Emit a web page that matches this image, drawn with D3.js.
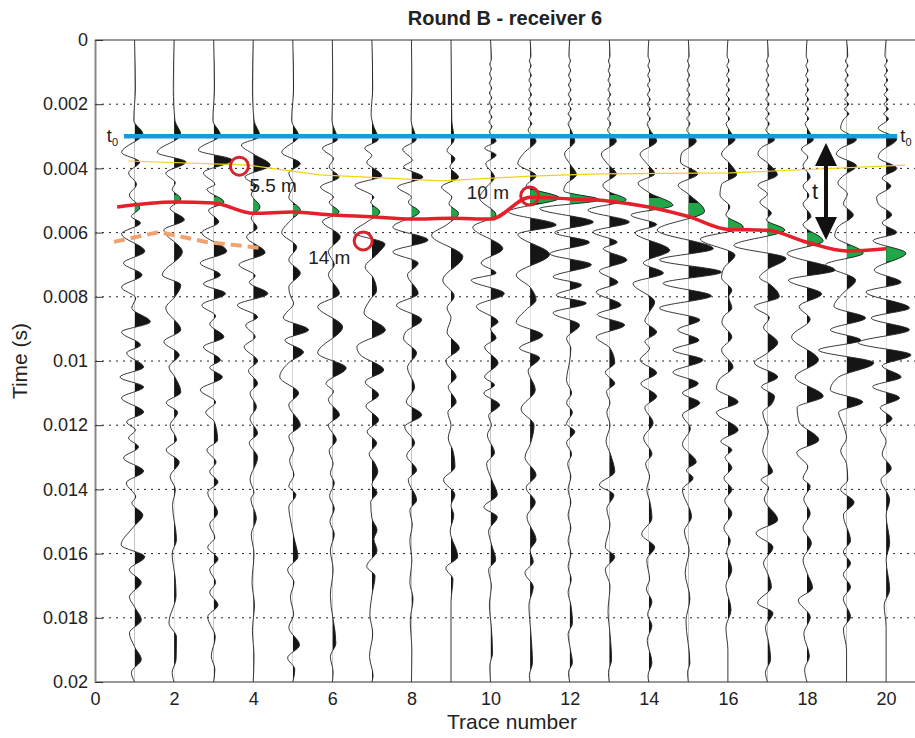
<!DOCTYPE html>
<html>
<head>
<meta charset="utf-8">
<script src="https://cdn.jsdelivr.net/npm/d3@7"></script>
<style>
body { margin: 0; background: #fff; }
text { font-family: "Liberation Sans", Arial, sans-serif; fill: #222; }
</style>
</head>
<body>
<div id="chart"></div>
<script>
// time (ms), amplitude (in trace units) of each wiggle extreme
const tr01 = [[0,0],[1.5,0.02],[2.5,-0.02],[2.93,0.21],[3.5,-0.33],[3.8,0.13],[4.14,-0.15],[4.5,0.05],[4.83,-0.13],[5.23,0.13],[5.5,-0.08],[5.7,0.15],[6.04,-0.33],[6.58,0.26],[6.95,-0.28],[7.32,0.19],[7.7,-0.33],[8.04,0.03],[8.35,-0.07],[8.78,0.4],[9.1,-0.33],[9.5,0.15],[9.75,-0.2],[10.19,0.23],[10.5,-0.37],[10.81,0.23],[11.15,-0.33],[11.59,0.23],[11.9,-0.2],[12.15,0.02],[12.4,-0.15],[12.68,0.1],[13.02,-0.28],[13.43,0.23],[13.8,-0.21],[14.24,0.03],[14.42,-0.07],[14.8,0.21],[15.2,-0.05],[15.73,-0.34],[16.1,0.26],[16.5,-0.13],[16.9,0.17],[17.35,-0.13],[17.66,0],[18.07,0.17],[18.47,-0.13],[18.9,0],[19.3,0.17],[19.7,-0.08],[20,0]];
const tr02 = [[0,0],[1.5,-0.02],[2.5,0.02],[2.95,0.17],[3.5,-0.43],[3.8,0.3],[4.15,-0.21],[4.45,0.03],[4.65,-0.05],[4.95,0.17],[5.25,-0.1],[5.6,0.26],[5.92,-0.26],[6.6,0.21],[7.32,-0.3],[7.63,0.17],[8.0,0.02],[8.35,-0.21],[9.03,0.17],[9.4,-0.26],[9.81,0.13],[10.19,-0.13],[10.5,0.02],[10.97,0.17],[11.3,-0.2],[11.6,0.09],[12.0,-0.1],[12.46,0.06],[12.77,-0.2],[13.15,0.13],[13.6,-0.1],[14.0,0.03],[14.5,-0.04],[15.57,0.06],[16.0,-0.05],[16.8,0.03],[17.3,0.05],[18.16,-0.13],[18.6,0.06],[19.3,0.05],[19.7,-0.05],[20,0]];
const tr03 = [[0,0],[1.5,0.02],[2.5,-0.02],[2.96,0.17],[3.43,-0.39],[3.74,0.47],[4.14,-0.26],[4.5,0.03],[4.65,-0.17],[5.05,0.26],[5.3,-0.13],[5.67,0.13],[6.0,-0.3],[6.58,0.33],[6.95,-0.34],[7.32,0.17],[7.6,-0.26],[7.9,0.3],[8.26,-0.3],[8.6,0.05],[8.85,-0.1],[9.25,0.26],[9.56,-0.26],[9.97,0.17],[10.2,-0.1],[10.5,0.22],[10.9,-0.34],[11.28,0.05],[11.6,-0.2],[11.9,0.02],[12.46,0.1],[12.77,-0.17],[13.15,0.06],[13.45,-0.1],[13.77,0.11],[14.1,-0.15],[14.73,0.1],[15.1,-0.1],[15.5,0.03],[15.8,-0.15],[16.17,0.11],[16.5,-0.1],[16.9,0.05],[17.2,-0.1],[17.6,0.11],[17.97,-0.15],[18.6,0.04],[19.2,-0.06],[19.6,0.03],[20,0]];
const tr04 = [[0,0],[1.5,-0.02],[2.5,0.02],[3.0,0.17],[3.27,-0.3],[3.55,0.0],[3.9,0.43],[4.27,-0.21],[4.55,0.08],[4.8,-0.05],[5.2,0.17],[5.55,-0.05],[5.85,0.1],[6.13,-0.17],[6.62,0.3],[7.0,-0.36],[7.35,0.05],[7.55,-0.1],[7.9,0.37],[8.26,-0.4],[8.63,0.11],[8.88,-0.19],[9.25,0.05],[9.56,-0.23],[10.0,0.11],[10.3,-0.12],[10.7,0.11],[11.0,-0.08],[11.43,0.08],[11.8,-0.08],[12.25,0.11],[12.55,-0.1],[13.0,0.11],[13.7,-0.08],[14.1,0.02],[14.3,-0.06],[14.9,0.08],[15.4,-0.05],[16.0,0.02],[16.9,-0.03],[17.6,0.03],[18.4,-0.02],[19.2,0.02],[20,0]];
const tr05 = [[0,0],[1.5,0.02],[2.5,-0.03],[3.0,0.15],[3.5,-0.28],[3.85,0.19],[4.15,-0.1],[4.5,0.02],[4.9,-0.1],[5.3,0.19],[5.65,-0.08],[6.0,-0.28],[6.45,0.1],[6.85,-0.1],[7.26,0.19],[7.7,-0.1],[8.0,-0.05],[8.2,0.02],[8.66,-0.24],[9.03,0.4],[9.35,-0.2],[9.72,0.27],[10.05,-0.1],[10.5,-0.33],[11.0,0.15],[11.37,-0.1],[12.0,0.19],[12.35,-0.1],[12.75,0.02],[13.1,-0.08],[13.55,0.03],[13.9,-0.1],[14.17,0.08],[14.55,-0.1],[15.0,-0.05],[15.5,0.03],[16.1,0.13],[16.5,-0.13],[16.9,0.03],[17.35,-0.06],[17.9,0.02],[18.3,-0.1],[18.85,0.17],[19.25,-0.13],[19.6,0.05],[20,0]];
const tr06 = [[0,0],[1.5,0.01],[2.5,-0.01],[3.1,0.13],[3.37,-0.25],[3.7,0.03],[3.95,-0.08],[4.27,0.17],[4.58,-0.3],[4.9,0.03],[5.05,-0.08],[5.36,0.17],[5.65,-0.25],[6.13,0.2],[6.6,-0.1],[7.0,0.05],[7.3,-0.1],[7.9,0.18],[8.3,-0.37],[8.94,0.26],[9.75,-0.37],[10.22,0.35],[10.7,-0.16],[10.95,0.03],[11.2,-0.1],[11.68,0.18],[12.0,-0.1],[12.46,0.1],[12.8,-0.08],[13.2,0.02],[13.5,-0.05],[13.8,0.05],[14.2,-0.07],[14.6,0.05],[15.0,-0.06],[15.4,0.05],[15.9,-0.05],[16.5,0.02],[17.3,-0.05],[18.8,0.09],[19.2,-0.05],[19.7,0.02],[20,0]];
const tr07 = [[0,0],[1.5,0.02],[2.3,-0.02],[2.6,0.02],[3.1,0.16],[3.37,-0.18],[3.6,0.0],[3.8,-0.13],[4.23,0.25],[4.52,-0.43],[4.9,0.05],[5.05,-0.03],[5.36,0.2],[5.67,-0.13],[6.0,-0.47],[6.35,0.33],[6.65,0.15],[7.07,-0.17],[7.4,0.03],[7.8,0.12],[8.1,-0.05],[8.5,-0.2],[9.03,0.34],[9.56,-0.38],[9.8,-0.3],[10.28,0.3],[10.65,-0.17],[11.06,0.17],[11.4,-0.15],[11.84,0.17],[12.2,-0.12],[12.56,0.12],[12.9,-0.07],[13.2,0.08],[13.45,0.15],[13.85,0.0],[14.1,0.13],[14.4,-0.03],[14.9,0.0],[15.27,0.13],[15.55,0.05],[15.9,0.13],[16.4,-0.13],[16.7,0.08],[17.3,0.0],[17.9,-0.05],[18.5,0.02],[19.2,-0.06],[19.8,0.03],[20,0]];
const tr08 = [[0,0],[1.5,0.01],[2.5,-0.01],[3.1,0.12],[3.4,-0.22],[3.75,0.02],[3.95,-0.2],[4.27,0.29],[4.58,-0.35],[4.9,0.0],[5.05,-0.08],[5.36,0.2],[5.83,-0.47],[6.23,0.42],[6.6,-0.47],[6.95,0.17],[7.32,-0.1],[7.9,0.17],[8.26,-0.38],[8.72,0.26],[9.1,-0.15],[9.3,-0.2],[9.75,0.13],[10.2,-0.1],[10.81,0.08],[11.28,-0.13],[11.68,0.26],[12.05,-0.17],[12.55,0.08],[12.95,-0.12],[13.4,0.13],[13.7,-0.08],[14.33,0.13],[14.65,-0.04],[15.1,0.02],[15.6,-0.04],[16.2,0.01],[16.9,-0.04],[17.4,0.04],[18.1,-0.03],[19.0,0.01],[20,0]];
const tr09 = [[0,0],[1.5,0.01],[2.5,0.02],[3.1,0.08],[3.45,-0.1],[3.7,0.1],[3.95,-0.03],[4.27,0.19],[4.58,-0.24],[4.9,0.02],[5.1,-0.05],[5.4,0.19],[5.75,-0.1],[6.08,-0.49],[6.75,0.3],[7.48,-0.21],[7.98,0.08],[8.35,-0.1],[8.65,0.0],[9.1,-0.1],[9.6,0.21],[10.0,-0.13],[10.5,0.13],[10.8,-0.07],[11.28,0.13],[11.6,-0.08],[12.0,0.0],[12.4,-0.07],[12.8,0.05],[13.3,0.1],[13.7,-0.19],[14.17,0.1],[14.5,0.0],[14.8,0.07],[15.3,-0.02],[16.1,0.17],[16.45,-0.13],[16.8,0.05],[17.5,0.0],[20,0]];
const tr10 = [[0,0],[0.6,0.02],[0.75,-0.02],[0.9,0.02],[1.05,-0.025],[1.2,0.025],[1.35,-0.03],[1.5,0.03],[1.65,-0.03],[1.8,0.03],[1.95,-0.035],[2.1,0.035],[2.25,-0.035],[2.4,0.035],[2.55,-0.04],[2.7,0.035],[2.85,-0.03],[3.15,0.14],[3.37,-0.15],[3.58,0.14],[3.85,-0.12],[4.27,0.1],[4.58,-0.1],[4.92,-0.28],[5.45,0.14],[5.83,-0.45],[6.5,0.31],[6.95,-0.24],[7.26,0.14],[7.48,-0.49],[7.9,0.35],[8.3,-0.36],[8.78,0.19],[9.0,0.0],[9.28,0.14],[9.56,-0.15],[10.06,0.19],[10.5,-0.15],[10.75,0.1],[11.0,-0.17],[11.37,0.23],[11.7,-0.05],[12.0,0.02],[12.3,-0.08],[12.86,0.1],[13.2,-0.1],[13.7,0.03],[14.17,0.17],[14.55,-0.17],[14.86,0.17],[15.3,-0.05],[15.7,0.02],[16.2,0.13],[16.5,-0.05],[17.0,0.02],[17.6,-0.03],[18.3,0.02],[19.1,0.05],[19.5,-0.02],[20,0]];
const tr11 = [[0,0],[0.5,0.02],[0.65,-0.02],[0.8,0.025],[0.95,-0.025],[1.1,0.03],[1.25,-0.03],[1.4,0.03],[1.55,-0.03],[1.7,0.035],[1.85,-0.035],[2.0,0.035],[2.15,-0.035],[2.3,0.04],[2.45,-0.04],[2.6,0.04],[2.8,-0.05],[3.15,0.15],[3.5,-0.14],[3.85,-0.31],[4.23,0.15],[4.55,-0.1],[4.92,0.74],[5.35,-0.55],[5.76,0.66],[6.05,-0.31],[6.68,0.49],[7.32,-0.35],[7.7,0.0],[8.1,0.15],[8.4,-0.1],[8.8,-0.35],[9.2,0.32],[9.6,-0.27],[9.9,0.24],[10.3,-0.05],[10.9,0.13],[11.5,-0.23],[12.0,0.1],[12.6,0.0],[13.0,-0.13],[13.55,0.15],[13.95,-0.1],[14.4,0.13],[14.85,-0.08],[15.58,0.15],[15.9,0.0],[16.25,0.08],[16.6,-0.13],[17.04,0.08],[17.6,-0.03],[18.5,0.02],[19.4,0.06],[19.8,-0.02],[20,0]];
const tr12 = [[0,0],[0.5,-0.02],[0.65,0.02],[0.8,-0.025],[0.95,0.025],[1.1,-0.03],[1.25,0.03],[1.4,-0.03],[1.55,0.03],[1.7,-0.035],[1.85,0.035],[2.0,-0.035],[2.15,0.035],[2.3,-0.04],[2.45,0.04],[2.6,-0.04],[2.8,0.03],[3.15,0.13],[3.55,-0.13],[3.85,0.0],[4.2,0.17],[4.5,-0.1],[4.7,-0.15],[4.98,0.76],[5.25,-0.76],[5.67,0.6],[6.0,-0.38],[6.3,0.5],[6.66,-0.5],[7.0,0.55],[7.38,-0.42],[7.63,0.3],[7.95,-0.34],[8.2,0.42],[8.5,-0.42],[8.88,0.25],[9.3,-0.08],[9.6,0.03],[10.0,0.0],[10.6,-0.08],[11.0,0.05],[11.3,-0.08],[11.6,0.07],[11.95,-0.08],[12.2,0.13],[12.55,-0.08],[12.9,0.05],[13.2,-0.05],[13.6,0.03],[14.0,-0.04],[14.4,0.03],[14.8,-0.04],[15.2,0.03],[15.6,-0.04],[16.0,0.03],[16.4,-0.04],[16.8,0.04],[17.2,-0.04],[17.6,0.03],[18.17,0.07],[18.5,-0.04],[19.0,0.02],[19.4,0.07],[19.7,-0.03],[20,0]];
const tr13 = [[0,0],[0.5,0.02],[0.65,-0.02],[0.8,0.02],[0.95,-0.025],[1.1,0.025],[1.25,-0.03],[1.4,0.03],[1.55,-0.03],[1.7,0.035],[1.85,-0.035],[2.0,0.035],[2.15,-0.035],[2.3,0.035],[2.45,-0.04],[2.6,0.04],[2.8,-0.04],[3.15,0.18],[3.55,-0.2],[3.85,-0.05],[4.17,0.18],[4.52,-0.16],[4.7,-0.05],[4.98,0.43],[5.3,-0.54],[5.67,0.51],[5.98,-0.41],[6.3,0.2],[6.5,-0.15],[6.85,0.45],[7.2,-0.25],[7.55,0.22],[7.85,-0.33],[8.26,0.3],[8.55,-0.3],[8.88,0.39],[9.25,-0.33],[9.6,0.02],[10.06,0.14],[10.35,-0.1],[10.7,0.14],[10.95,-0.07],[11.3,0.02],[11.6,-0.06],[12.0,0.02],[12.5,-0.08],[12.9,0.03],[13.45,0.14],[13.86,-0.25],[14.17,0.12],[14.6,-0.06],[15.1,0.02],[15.8,-0.1],[16.1,0.14],[16.5,-0.1],[17.0,0.02],[17.8,-0.03],[18.5,0.02],[19.3,0.06],[19.7,-0.02],[20,0]];
const tr14 = [[0,0],[0.5,-0.02],[0.65,0.02],[0.8,-0.02],[0.95,0.025],[1.1,-0.025],[1.25,0.03],[1.4,-0.03],[1.55,0.03],[1.7,-0.035],[1.85,0.035],[2.0,-0.035],[2.15,0.035],[2.3,-0.04],[2.45,0.04],[2.6,-0.04],[2.8,0.03],[3.15,0.2],[3.55,-0.22],[3.85,-0.05],[4.17,0.15],[4.45,-0.27],[4.75,0.0],[5.15,0.61],[5.45,-0.45],[5.75,0.2],[6.0,-0.35],[6.55,0.53],[6.95,-0.14],[7.26,0.37],[7.58,-0.4],[8.16,0.15],[8.5,0.0],[8.75,-0.1],[9.1,0.2],[9.4,-0.1],[9.6,0.02],[9.97,-0.22],[10.37,0.2],[10.7,-0.2],[11.1,0.2],[11.45,-0.1],[11.93,0.11],[12.4,-0.13],[12.9,0.08],[13.2,-0.08],[13.6,0.02],[14.0,-0.05],[14.4,0.03],[14.9,0.08],[15.4,-0.18],[15.8,0.15],[16.2,-0.05],[16.8,0.02],[17.1,-0.06],[17.5,0.08],[17.9,-0.03],[18.25,0.08],[18.7,-0.04],[19.4,0.08],[19.8,-0.02],[20,0]];
const tr15 = [[0,0],[0.5,0.02],[0.65,-0.02],[0.8,0.025],[0.95,-0.025],[1.1,0.03],[1.25,-0.03],[1.4,0.03],[1.55,-0.035],[1.7,0.035],[1.85,-0.035],[2.0,0.035],[2.15,-0.04],[2.3,0.04],[2.45,-0.04],[2.6,0.04],[2.8,-0.04],[3.15,0.2],[3.55,-0.18],[3.8,-0.2],[4.17,0.24],[4.52,-0.26],[4.8,0.0],[5.34,0.41],[5.92,-0.79],[6.5,0.63],[6.85,-0.73],[7.23,0.84],[7.58,-0.64],[7.97,0.58],[8.35,-0.73],[8.72,0.29],[9.03,-0.27],[9.35,0.27],[9.66,-0.39],[9.97,0.37],[10.35,-0.39],[10.7,0.25],[11.0,-0.15],[11.3,0.29],[11.68,-0.15],[12.1,0.05],[12.6,-0.15],[13.15,0.2],[13.4,-0.05],[13.65,0.12],[14.0,-0.15],[14.85,0.08],[15.3,-0.1],[15.9,0.02],[16.6,-0.08],[17.4,0.04],[18.1,-0.06],[19.4,0.04],[19.7,-0.02],[20,0]];
const tr16 = [[0,0],[0.5,-0.02],[0.65,0.025],[0.8,-0.025],[0.95,0.03],[1.1,-0.03],[1.25,0.035],[1.4,-0.035],[1.55,0.035],[1.7,-0.04],[1.85,0.04],[2.0,-0.04],[2.15,0.04],[2.3,-0.045],[2.45,0.045],[2.6,-0.045],[2.8,0.03],[3.1,0.18],[3.35,-0.05],[3.55,-0.16],[3.85,0.05],[4.2,0.22],[4.5,-0.16],[4.83,-0.2],[5.2,0.05],[5.45,-0.05],[5.83,0.39],[6.2,-0.7],[6.7,0.18],[7.1,-0.1],[7.4,-0.16],[7.8,0.1],[8.0,0.02],[8.35,0.1],[8.6,-0.1],[8.8,-0.15],[9.25,0.1],[9.66,-0.16],[10.19,0.13],[10.55,-0.2],[10.85,-0.29],[11.28,0.26],[11.6,-0.29],[12.15,0.26],[12.5,-0.18],[12.77,0.1],[13.0,-0.07],[13.33,0.1],[13.65,-0.1],[14.0,0.1],[14.35,-0.08],[14.75,0.1],[15.2,-0.1],[15.6,0.06],[15.95,-0.03],[16.5,0.1],[17.0,-0.05],[17.75,0.08],[18.3,-0.05],[19.0,0.0],[20,0]];
const tr17 = [[0,0],[0.5,0.02],[0.65,-0.025],[0.8,0.025],[0.95,-0.03],[1.1,0.03],[1.25,-0.035],[1.4,0.035],[1.55,-0.035],[1.7,0.04],[1.85,-0.04],[2.0,0.04],[2.15,-0.04],[2.3,0.045],[2.45,-0.045],[2.6,0.045],[2.8,-0.04],[3.1,0.18],[3.35,-0.15],[3.55,-0.24],[3.85,0.02],[4.2,0.25],[4.52,-0.24],[4.8,0.0],[5.05,-0.19],[5.4,0.1],[5.6,-0.03],[5.92,0.44],[6.4,-0.85],[6.8,0.47],[7.15,0.0],[7.4,-0.2],[7.6,0.05],[8.0,0.3],[8.3,-0.33],[8.65,0.05],[8.95,-0.1],[9.43,0.26],[9.75,0.0],[10.06,-0.33],[10.5,0.26],[10.8,-0.15],[11.1,0.18],[11.35,0.1],[11.6,-0.12],[12.2,0.02],[12.8,-0.12],[13.2,0.03],[13.45,0.13],[13.7,-0.16],[13.95,0.03],[14.3,-0.08],[14.95,0.26],[15.36,-0.29],[15.8,0.14],[16.3,-0.1],[16.6,0.0],[17.04,0.1],[17.54,-0.25],[17.85,0.14],[18.3,-0.05],[18.7,0.02],[19.3,0.08],[19.7,-0.05],[20,0]];
const tr18 = [[0,0],[0.5,-0.02],[0.65,0.02],[0.8,-0.025],[0.95,0.025],[1.1,-0.03],[1.25,0.03],[1.4,-0.035],[1.55,0.035],[1.7,-0.035],[1.85,0.04],[2.0,-0.04],[2.15,0.04],[2.3,-0.04],[2.45,0.045],[2.6,-0.045],[2.8,0.03],[3.1,0.16],[3.4,-0.14],[3.65,0.02],[3.9,-0.1],[4.27,0.08],[4.55,-0.1],[4.85,0.05],[5.1,-0.1],[5.5,0.1],[5.75,-0.1],[6.26,0.41],[6.65,-0.5],[7.17,0.71],[7.48,-0.47],[7.91,0.37],[8.3,-0.2],[8.7,0.08],[9.25,-0.39],[9.97,0.29],[10.5,-0.3],[11.1,0.41],[11.45,-0.25],[11.9,-0.2],[12.46,0.3],[12.85,-0.26],[13.3,0.02],[13.65,-0.1],[13.9,0.08],[14.3,-0.08],[14.75,0.08],[15.2,-0.1],[15.67,0.11],[16.2,-0.1],[16.6,0.0],[17.07,0.14],[17.45,-0.22],[17.97,0.08],[18.5,-0.08],[19.2,0.06],[19.6,-0.06],[20,0]];
const tr19 = [[0,0],[0.5,0.03],[0.65,-0.03],[0.8,0.035],[0.95,-0.035],[1.1,0.04],[1.25,-0.04],[1.4,0.045],[1.55,-0.045],[1.7,0.05],[1.85,-0.05],[2.0,0.055],[2.15,-0.055],[2.3,0.06],[2.45,-0.06],[2.75,-0.15],[3.1,0.25],[3.4,-0.17],[3.55,-0.26],[3.92,0.25],[4.25,-0.1],[4.45,-0.22],[4.8,0.02],[5.1,-0.08],[5.45,0.17],[5.83,-0.22],[6.1,-0.3],[6.64,0.42],[7.0,-0.53],[7.48,0.23],[7.9,-0.1],[8.3,-0.32],[8.66,0.48],[9.03,-0.41],[9.35,0.36],[9.66,-0.71],[10.06,0.69],[10.5,-0.2],[10.9,-0.41],[11.28,0.41],[11.6,-0.2],[11.95,-0.1],[12.4,0.0],[12.8,-0.15],[13.2,0.0],[13.7,0.03],[14.0,-0.15],[14.4,0.19],[14.8,-0.08],[15.6,0.1],[15.95,-0.08],[16.3,0.1],[16.65,-0.08],[17.04,0.1],[17.4,-0.08],[17.97,0.1],[18.35,-0.08],[19.0,0.0],[20,0]];
const tr20 = [[0,0],[0.5,-0.03],[0.65,0.03],[0.8,-0.035],[0.95,0.035],[1.1,-0.04],[1.25,0.04],[1.4,-0.045],[1.55,0.045],[1.7,-0.05],[1.85,0.05],[2.0,-0.055],[2.15,0.055],[2.3,-0.06],[2.45,0.06],[2.75,-0.2],[3.08,0.27],[3.5,-0.15],[3.65,-0.2],[4.0,0.27],[4.3,-0.1],[4.55,0.12],[4.9,-0.24],[5.1,-0.2],[5.45,0.14],[5.7,-0.1],[6.0,0.27],[6.25,-0.33],[6.64,0.5],[7.17,-0.3],[7.55,0.38],[7.85,-0.51],[8.35,0.59],[8.66,-0.38],[9.03,0.59],[9.43,-0.71],[9.81,0.63],[10.15,-0.1],[10.5,0.38],[10.8,-0.34],[11.15,0.34],[11.45,-0.15],[11.8,0.15],[12.1,-0.15],[12.5,0.0],[12.9,-0.1],[13.35,0.13],[13.7,-0.13],[14.33,0.09],[14.8,0.0],[15.67,0.09],[16.2,0.0],[17.13,0.09],[17.6,-0.05],[18.3,0.0],[20,0]];
const traces = [tr01,tr02,tr03,tr04,tr05,tr06,tr07,tr08,tr09,tr10,tr11,tr12,tr13,tr14,tr15,tr16,tr17,tr18,tr19,tr20];

// first-arrival lobe (green) time window per trace, ms
const greenStart = [5.1,4.83,4.89,4.98,5.14,5.2,5.2,5.08,5.2,5.3,4.67,4.77,4.83,4.92,5.08,5.55,5.7,6.0,6.4,6.4];
const greenEnd   = [5.4,5.08,5.2,5.5,5.5,5.6,5.6,5.67,5.7,5.76,5.08,5.14,5.2,5.36,5.76,6.0,6.3,6.48,6.85,6.9];

// picked lines [trace, ms]
const pickRed = [[0.56,5.2],[2,5.05],[3,5.08],[4,5.4],[5,5.36],[6,5.45],[7,5.51],[8,5.58],[9,5.55],[10,5.58],[11,4.9],[12,4.95],[13,5.02],[14,5.2],[15,5.5],[16,5.9],[17,5.93],[18,6.3],[19,6.57],[20,6.5]];
const pickYellow = [[0.84,3.77],[3.9,3.9],[5.67,4.2],[6.86,4.27],[8.78,4.39],[10.99,4.24],[12.76,4.17],[16.05,4.14],[20.48,3.9]];
const pickOrange = [[0.48,6.29],[1.62,5.98],[2.81,6.29],[4.2,6.48]];
const t0Line = [[0.73,3.0],[20.28,3.0]];
const circles = [[3.65,3.93,"5.5 m"],[6.78,6.26,"14 m"],[10.99,4.86,"10 m"]];
const circleLabelOffset = [[10,26],[-55,23],[-63,3]];

const xTicks = [0,2,4,6,8,10,12,14,16,18,20];
const yTicks = [0,0.002,0.004,0.006,0.008,0.01,0.012,0.014,0.016,0.018,0.02];
const yTickLabels = ["0","0.002","0.004","0.006","0.008","0.01","0.012","0.014","0.016","0.018","0.02"];

const W = 915, H = 738;
const x = d3.scaleLinear().domain([0, 20.73]).range([95, 915]);
const y = d3.scaleLinear().domain([0, 0.02]).range([40, 682]);
const ms = t => y(t / 1000);

const svg = d3.select('#chart').append('svg')
  .attr('width', W).attr('height', H);

const defs = svg.append('defs');
defs.append('clipPath').attr('id', 'plotClip')
  .append('rect').attr('x', 95).attr('y', 40).attr('width', 820).attr('height', 642);

// dotted grid
svg.append('g').selectAll('line')
  .data(yTicks.slice(1, -1))
  .enter().append('line')
  .attr('x1', 95).attr('x2', 915)
  .attr('y1', d => y(d)).attr('y2', d => y(d))
  .style('stroke', '#222').style('stroke-width', 1)
  .style('stroke-dasharray', '2,5');

// traces
const plot = svg.append('g').attr('clip-path', 'url(#plotClip)');
traces.forEach(function(tr, k){
  const n = k + 1;
  defs.append('clipPath').attr('id', 'pos' + n)
    .append('rect').attr('x', x(n)).attr('y', 40).attr('width', 60).attr('height', 642);
  defs.append('clipPath').attr('id', 'grn' + n)
    .append('rect').attr('x', x(n)).attr('y', ms(greenStart[k]))
    .attr('width', 60).attr('height', ms(greenEnd[k]) - ms(greenStart[k]));

  const area = d3.area()
    .curve(d3.curveMonotoneY)
    .y(d => ms(d[0]))
    .x0(x(n))
    .x1(d => x(n + d[1]));
  const line = d3.line()
    .curve(d3.curveMonotoneY)
    .y(d => ms(d[0]))
    .x(d => x(n + d[1]));

  plot.append('path').datum(tr)
    .attr('d', area)
    .attr('clip-path', 'url(#pos' + n + ')')
    .style('fill', '#151515');
  plot.append('path').datum(tr)
    .attr('d', area)
    .attr('clip-path', 'url(#grn' + n + ')')
    .style('fill', '#21a649');
  plot.append('path').datum(tr)
    .attr('d', line)
    .style('fill', 'none')
    .style('stroke', '#222')
    .style('stroke-width', 0.9);
});

// axes frame
svg.append('line').attr('x1', 95).attr('x2', 915).attr('y1', 40).attr('y2', 40)
  .style('stroke', '#333').style('stroke-width', 1);
svg.append('line').attr('x1', 95).attr('x2', 915).attr('y1', 682).attr('y2', 682)
  .style('stroke', '#333').style('stroke-width', 1.2);

const yAxis = d3.axisLeft(y)
  .tickValues(yTicks)
  .tickFormat((d, i) => yTickLabels[i])
  .tickSizeInner(-8).tickSizeOuter(0).tickPadding(7);
const gy = svg.append('g').attr('transform', 'translate(95,0)').call(yAxis);
gy.select('.domain').style('stroke', '#888').style('stroke-width', 2);
gy.selectAll('.tick line').style('stroke', '#333');
gy.selectAll('.tick text').style('font-size', '18px').style('fill', '#222');

const xAxis = d3.axisBottom(x).tickValues(xTicks).tickSize(0).tickPadding(10);
const gx = svg.append('g').attr('transform', 'translate(0,682)').call(xAxis);
gx.select('.domain').remove();
gx.selectAll('.tick text').style('font-size', '18px').style('fill', '#222');

// overlays
const lineXY = d3.line().x(d => x(d[0])).y(d => ms(d[1]));

svg.append('path').datum(pickYellow)
  .attr('d', lineXY)
  .style('fill', 'none').style('stroke', '#f2d313').style('stroke-width', 1.2);

svg.append('path').datum(t0Line)
  .attr('d', lineXY)
  .style('fill', 'none').style('stroke', '#1b9ad6').style('stroke-width', 4.5);

svg.append('path').datum(pickOrange)
  .attr('d', lineXY)
  .style('fill', 'none').style('stroke', '#f0a36e').style('stroke-width', 4)
  .style('stroke-dasharray', '11,6');

svg.append('path').datum(pickRed)
  .attr('d', lineXY.curve(d3.curveMonotoneX))
  .style('fill', 'none').style('stroke', '#e6202a').style('stroke-width', 3.5)
  .style('stroke-linejoin', 'round');

svg.selectAll('.ring')
  .data(circles)
  .enter().append('circle')
  .attr('class', 'ring')
  .attr('cx', d => x(d[0])).attr('cy', d => ms(d[1]))
  .attr('r', 9)
  .style('fill', 'none').style('stroke', '#d8232b').style('stroke-width', 3);

svg.selectAll('.ring-label')
  .data(circles)
  .enter().append('text')
  .attr('class', 'ring-label')
  .attr('x', (d, i) => x(d[0]) + circleLabelOffset[i][0])
  .attr('y', (d, i) => ms(d[1]) + circleLabelOffset[i][1])
  .style('font-size', '19px')
  .text(d => d[2]);

// t0 labels
function tZero(px, py){
  const t = svg.append('text').attr('x', px).attr('y', py).style('font-size', '18px');
  t.append('tspan').text('t');
  t.append('tspan').attr('dy', 4).style('font-size', '11px').text('0');
}
tZero(x(0.3), ms(3.0) + 6);
tZero(x(20.36), ms(3.0) + 6);

// double headed arrow
const arrowTrace = 18.48, arrowTop = 3.21, arrowBottom = 6.23;
const ax = x(arrowTrace), aTop = ms(arrowTop), aBot = ms(arrowBottom);
svg.append('line').attr('x1', ax).attr('x2', ax).attr('y1', aTop + 20).attr('y2', aBot - 20)
  .style('stroke', '#111').style('stroke-width', 4);
svg.append('path')
  .attr('d', `M${ax},${aTop} L${ax + 11},${aTop + 23} L${ax - 11},${aTop + 23} Z`)
  .style('fill', '#111');
svg.append('path')
  .attr('d', `M${ax},${aBot} L${ax + 11},${aBot - 23} L${ax - 11},${aBot - 23} Z`)
  .style('fill', '#111');
svg.append('text').attr('x', ax - 14).attr('y', (aTop + aBot) / 2 + 7)
  .style('font-size', '22px').text('t');

// titles
svg.append('text').attr('x', 505).attr('y', 25)
  .attr('text-anchor', 'middle')
  .style('font-size', '20px').style('font-weight', 'bold')
  .text('Round B - receiver 6');
svg.append('text').attr('x', 512).attr('y', 729)
  .attr('text-anchor', 'middle')
  .style('font-size', '21px')
  .text('Trace number');
svg.append('text')
  .attr('transform', 'translate(27,361) rotate(-90)')
  .attr('text-anchor', 'middle')
  .style('font-size', '21px')
  .text('Time (s)');
</script>
</body>
</html>
